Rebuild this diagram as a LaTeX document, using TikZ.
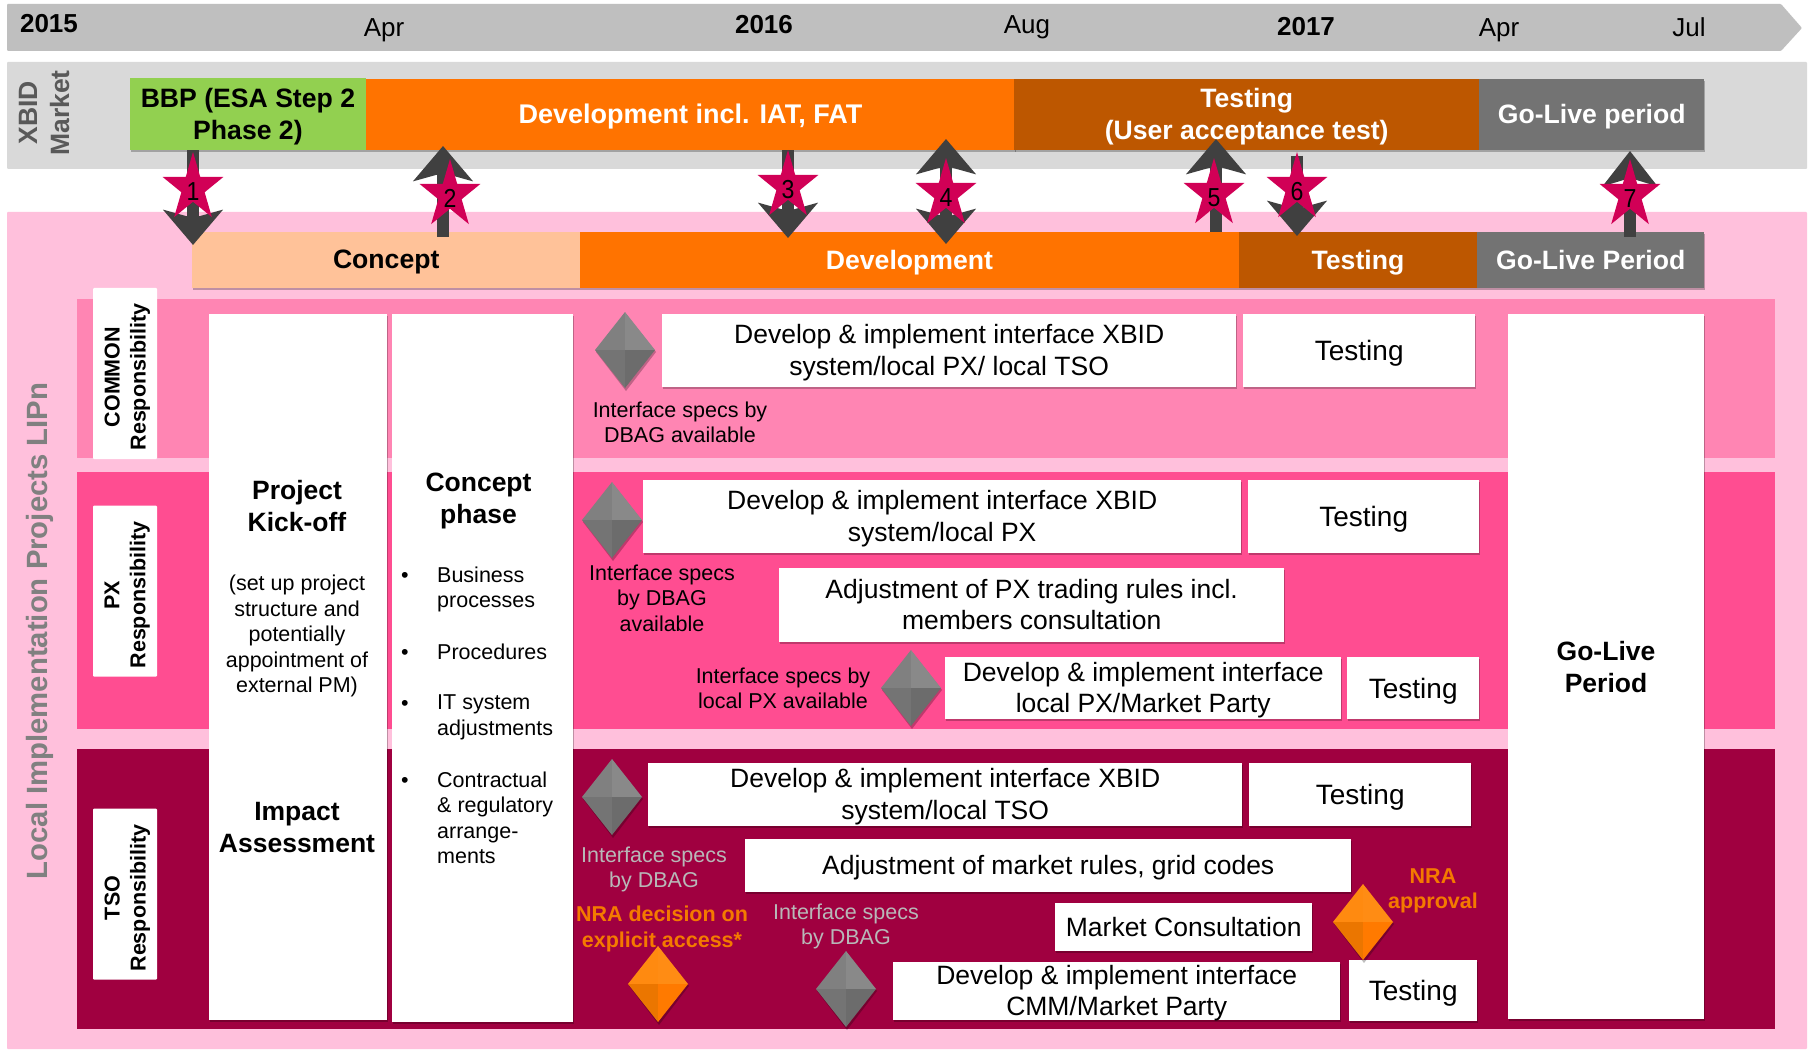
\documentclass[tikz,border=0pt]{standalone}
\usepackage{fontspec}
\setmainfont{Liberation Sans}
\usetikzlibrary{shapes.geometric,arrows.meta,shadows}

\definecolor{rulergrey}{HTML}{BFBFBF}
\definecolor{xbidgrey}{HTML}{D9D9D9}
\definecolor{lipnpink}{HTML}{FFC0DC}
\definecolor{commonpink}{HTML}{FF85B3}
\definecolor{pxpink}{HTML}{FF4D91}
\definecolor{tsored}{HTML}{A00040}
\definecolor{phaseorange}{HTML}{FF7300}
\definecolor{testbrown}{HTML}{BD5700}
\definecolor{liveslate}{HTML}{737373}
\definecolor{conceptpeach}{HTML}{FFC299}
\definecolor{bbpgreen}{HTML}{92D050}
\definecolor{starred}{HTML}{D10056}
\definecolor{flowgrey}{HTML}{404040}
\definecolor{nraorange}{HTML}{F47A00}
\definecolor{specgrey}{HTML}{B8B8B8}
\definecolor{gemgreya}{HTML}{808080}
\definecolor{gemgreyb}{HTML}{898989}
\definecolor{gemgreyc}{HTML}{747474}
\definecolor{gemgreyd}{HTML}{6C6C6C}
\definecolor{gemorangea}{HTML}{FF8A10}
\definecolor{gemorangeb}{HTML}{FF8C14}
\definecolor{gemorangec}{HTML}{EB7600}
\definecolor{gemoranged}{HTML}{FF7A00}

\tikzset{
    softshadow/.style={drop shadow={shadow xshift=1pt,shadow yshift=-2pt,opacity=.25,fill=black}},
    boxsize/.style 2 args={minimum width=#1pt,minimum height=#2pt},
    bar/.style={anchor=north west,inner sep=0pt,text depth=1.5pt,softshadow,font=\fontsize{26.6}{32}\selectfont\bfseries,align=center},
    whitebox/.style={anchor=north west,inner sep=0pt,text depth=1.5pt,fill=white,softshadow,font=\fontsize{26.5}{31.5}\selectfont,align=center},
    testbox/.style={whitebox,text depth=0pt,font=\fontsize{28}{31.5}\selectfont},
    rolebox/.style={anchor=center,fill=white,inner sep=0pt,rounded corners=1pt,boxsize={64}{171}},
    roletext/.style={rotate=90,align=center,text depth=0pt,font=\fontsize{21.5}{26}\selectfont\bfseries},
    rulertext/.style={inner sep=0pt,font=\fontsize{26}{31}\selectfont},
    yeartext/.style={rulertext,font=\fontsize{26}{31}\selectfont\bfseries},
    note/.style={inner sep=0pt,align=center,text depth=0pt,font=\fontsize{21.5}{25.5}\selectfont},
    nra/.style={note,text=nraorange,font=\fontsize{21.5}{25.5}\selectfont\bfseries},
    spec/.style={note,text=specgrey},
    heading/.style={inner sep=0pt,align=center,text depth=0pt,font=\fontsize{26.5}{32}\selectfont\bfseries},
    listtext/.style={note,anchor=north west,align=left},
    dot/.style={note,anchor=north},
    starmark/.style={star,star points=5,star point ratio=2.618,fill=starred,inner sep=0pt,minimum size=72pt,text height=0pt,text depth=0pt,transform shape,xscale=.89,font=\fontsize{26}{26}\selectfont},
    milehead/.tip={Stealth[length=35pt,width=59pt,inset=8pt]},
    flowline/.style={line width=12pt,draw=flowgrey},
    pics/gem/.style={code={
        \fill[black,opacity=.25] (-29,2) -- (1,-36) -- (31,2) -- (1,41) -- cycle;
        \fill[gem#1a] (-30,0) -- (0,-38) -- (0,0) -- cycle;
        \fill[gem#1b] (30,0) -- (0,-38) -- (0,0) -- cycle;
        \fill[gem#1c] (-30,0) -- (0,38) -- (0,0) -- cycle;
        \fill[gem#1d] (30,0) -- (0,38) -- (0,0) -- cycle;
    }},
}

\begin{document}
\begin{tikzpicture}[x=1pt,y=-1pt]
\useasboundingbox (0,0) rectangle (1808,1051);
\fill[white] (0,0) rectangle (1808,1051);

% time ruler
\fill[rulergrey,rounded corners=1pt] (7,4) -- (1781,4) -- (1802,28) -- (1781,51) -- (7,51) -- cycle;
\node[yeartext] (yearA) at (49,24) {2015};
\node[rulertext] (monthA) at (384,30) {Apr};
\node[yeartext] (yearB) at (764,25) {2016};
\node[rulertext] (monthB) at (1027,27) {Aug};
\node[yeartext] (yearC) at (1306,27) {2017};
\node[rulertext] (monthC) at (1499,30) {Apr};
\node[rulertext] (monthD) at (1689,27) {Jul};

% XBID market
\fill[xbidgrey,rounded corners=1pt] (7,62) rectangle (1807,169);
\node[rotate=90,align=center,text=black!65,text depth=0pt,font=\fontsize{26.5}{32}\selectfont\bfseries] (xbidlabel) at (44,113) {XBID\\Market};
\node[bar,boxsize={236.5}{72},fill=bbpgreen] (bbp) at (129.5,78) {BBP (ESA Step 2\\Phase 2)};
\node[bar,boxsize={648.5}{71},fill=phaseorange,text=white,font=\fontsize{27}{32}\selectfont\bfseries] (xbiddev) at (366,79) {Development incl. IAT, FAT};
\node[bar,boxsize={465}{71},fill=testbrown,text=white] (xbidtest) at (1014,79) {Testing\\(User acceptance test)};
\node[bar,boxsize={225}{71},fill=liveslate,text=white] (xbidlive) at (1479,79) {Go-Live period};

% local projects
\fill[lipnpink,rounded corners=1pt] (7,212) rectangle (1807,1049);
\node[rotate=90,text=black!50,text depth=0pt,inner sep=0pt,font=\fontsize{29.3}{34}\selectfont\bfseries] (lipnlabel) at (37,631) {Local Implementation Projects LIPn};
\node[bar,boxsize={388}{56},fill=conceptpeach] (concept) at (192,232) {Concept};
\node[bar,boxsize={658.5}{56},fill=phaseorange,text=white] (lipndev) at (580,232) {Development};
\node[bar,boxsize={238.5}{56},fill=testbrown,text=white] (lipntest) at (1238.5,232) {Testing};
\node[bar,boxsize={227}{56},fill=liveslate,text=white] (lipnlive) at (1477,232) {Go-Live Period};

\fill[commonpink] (77,299) rectangle (1775,458);
\fill[pxpink] (77,472) rectangle (1775,729);
\fill[tsored] (77,749) rectangle (1775,1029);

\node[rolebox] (commonbox) at (125,373.5) {};
\node[roletext] (commonlabel) at (125,377) {COMMON\\Responsibility};
\node[rolebox] (pxbox) at (125,591) {};
\node[roletext] (pxlabel) at (125,595) {PX\\Responsibility};
\node[rolebox] (tsobox) at (125,894) {};
\node[roletext] (tsolabel) at (125,898) {TSO\\Responsibility};

% long columns
\node[whitebox,boxsize={178}{706}] (kickoff) at (209,314) {};
\node[heading] (kickoffhead) at (297,506) {Project\\Kick-off};
\node[note] (kickoffnote) at (297,634) {(set up project\\structure and\\potentially\\appointment of\\external PM)};
\node[heading] (impact) at (297,827) {Impact\\Assessment};

\node[whitebox,boxsize={181}{708}] (conceptcol) at (392,314) {};
\node[heading] (concepthead) at (478.5,498) {Concept\\phase};
\node[dot] (dotA) at (405,572) {•};
\node[listtext] (itemA) at (437,566.5) {Business\\processes};
\node[dot] (dotB) at (405,649) {•};
\node[listtext] (itemB) at (437,643.5) {Procedures};
\node[dot] (dotC) at (405,700) {•};
\node[listtext] (itemC) at (437,695) {IT system\\adjustments};
\node[dot] (dotD) at (405,777) {•};
\node[listtext] (itemD) at (437,771.5) {Contractual\\\& regulatory\\arrange-\\ments};

\node[whitebox,boxsize={196}{705}] (livecol) at (1508,314) {};
\node[heading] (livehead) at (1606,667) {Go-Live\\Period};

% common row
\pic (gemA) at (625,350) {gem=grey};
\node[note] (specA) at (680,422) {Interface specs by\\DBAG available};
\node[whitebox,boxsize={574}{73}] (devcommon) at (662,314) {Develop \& implement interface XBID\\system/local PX/ local TSO};
\node[testbox,boxsize={232}{73}] (testcommon) at (1243,314) {Testing};

% px row
\pic (gemB) at (612,520) {gem=grey};
\node[note] (specB) at (662,598) {Interface specs\\by DBAG\\available};
\node[whitebox,boxsize={598}{73}] (devpx) at (643,480) {Develop \& implement interface XBID\\system/local PX};
\node[testbox,boxsize={231}{73}] (testpx) at (1248,480) {Testing};
\node[whitebox,boxsize={505}{74}] (rulespx) at (779,568) {Adjustment of PX trading rules incl.\\members consultation};
\node[note] (specC) at (783,688) {Interface specs by\\local PX available};
\pic (gemC) at (911,688) {gem=grey};
\node[whitebox,boxsize={396}{62}] (partypx) at (945,657) {Develop \& implement interface\\local PX/Market Party};
\node[testbox,boxsize={132}{62}] (testparty) at (1347,657) {Testing};

% tso row
\pic (gemD) at (612,797) {gem=grey};
\node[spec] (specD) at (654,867) {Interface specs\\by DBAG};
\node[whitebox,boxsize={594}{63}] (devtso) at (648,763) {Develop \& implement interface XBID\\system/local TSO};
\node[testbox,boxsize={222}{63}] (testtso) at (1249,763) {Testing};
\node[whitebox,boxsize={606}{53}] (rulestso) at (745,839) {Adjustment of market rules, grid codes};
\node[nra] (nradecision) at (662,926.5) {NRA decision on\\explicit access*};
\pic (gemE) at (658,984) {gem=orange};
\node[spec] (specE) at (846,924) {Interface specs\\by DBAG};
\pic (gemF) at (846,989) {gem=grey};
\node[whitebox,boxsize={257}{48}] (consult) at (1055,903) {Market Consultation};
\node[whitebox,boxsize={447}{58}] (cmm) at (893,962) {Develop \& implement interface\\CMM/Market Party};
\node[testbox,boxsize={128}{61}] (testcmm) at (1349,960) {Testing};
\pic (gemG) at (1363,922) {gem=orange};
\node[nra] (nraapproval) at (1433,888.5) {NRA\\approval};

% milestones
\coordinate (tipA) at (193,245);
\coordinate (baseB) at (443,237);
\coordinate (tipB) at (443,146);
\coordinate (tipC) at (788,238);
\coordinate (topD) at (946,139);
\coordinate (lowD) at (946,244);
\coordinate (tipE) at (1216,139);
\coordinate (baseF) at (1297,156);
\coordinate (tipF) at (1297,236);
\coordinate (baseG) at (1630,237);
\coordinate (tipG) at (1630,151);
\draw[flowline,-{milehead}] (tipA |- bbp.south) -- (tipA);
\draw[flowline,-{milehead}] (baseB) -- (tipB);
\draw[flowline,-{milehead}] (tipC |- xbiddev.south) -- (tipC);
\draw[flowline,{milehead}-{milehead}] (topD) -- (lowD);
\draw[flowline,-{milehead}] (tipE |- lipndev.north) -- (tipE);
\draw[flowline,-{milehead}] (baseF) -- (tipF);
\draw[flowline,-{milehead[width=54pt]}] (baseG) -- (tipG);

\node[starmark] (markA) at (193,188) {\raisebox{-12.5pt}{1}};
\node[starmark] (markB) at (450,195) {\raisebox{-12.5pt}{2}};
\node[starmark] (markC) at (788,186) {\raisebox{-12.5pt}{3}};
\node[starmark] (markD) at (946,194) {\raisebox{-12.5pt}{4}};
\node[starmark] (markE) at (1214,194) {\raisebox{-12.5pt}{5}};
\node[starmark] (markF) at (1297,188) {\raisebox{-12.5pt}{6}};
\node[starmark] (markG) at (1630,195) {\raisebox{-12.5pt}{7}};
\end{tikzpicture}
\end{document}
